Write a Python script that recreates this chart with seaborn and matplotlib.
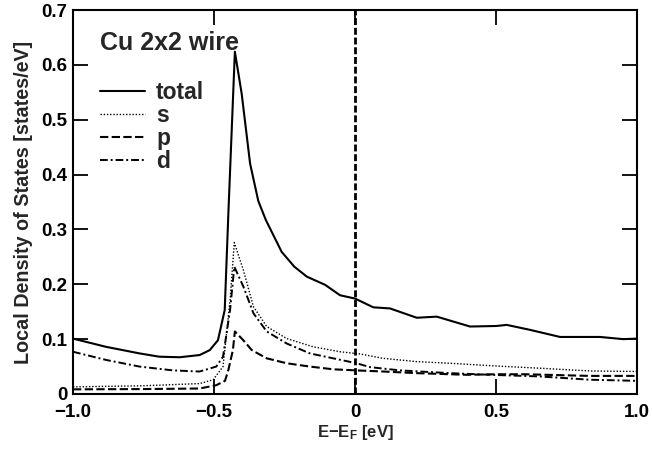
import numpy as np
import pandas as pd
import matplotlib
matplotlib.use("Agg")
import matplotlib.pyplot as plt
import seaborn as sns

# ---- data ----
E_total = [-1.0, -0.883, -0.764, -0.694, -0.622, -0.551, -0.515, -0.486, -0.462, -0.449,
           -0.426, -0.402, -0.372, -0.343, -0.316, -0.26, -0.215, -0.171, -0.106, -0.053,
           0.0, 0.065, 0.124, 0.219, 0.29, 0.408, 0.502, 0.538, 0.62, 0.727, 0.869, 0.951, 1.0]
total = [0.101, 0.086, 0.074, 0.068, 0.067, 0.071, 0.080, 0.098, 0.153, 0.33,
         0.624, 0.548, 0.42, 0.352, 0.317, 0.259, 0.232, 0.214, 0.199, 0.180,
         0.174, 0.158, 0.156, 0.139, 0.141, 0.123, 0.124, 0.126, 0.117, 0.104, 0.104, 0.100, 0.101]

E_s = [-1.0, -0.75, -0.551, -0.503, -0.468, -0.443, -0.428, -0.396, -0.36, -0.313,
       -0.242, -0.148, -0.053, 0.018, 0.1, 0.219, 0.337, 0.502, 0.656, 0.833, 1.0]
s = [0.013, 0.015, 0.019, 0.026, 0.050, 0.171, 0.276, 0.226, 0.159, 0.123,
     0.101, 0.086, 0.077, 0.073, 0.065, 0.059, 0.056, 0.051, 0.047, 0.042, 0.041]

E_p = [-1.0, -0.75, -0.551, -0.492, -0.461, -0.449, -0.433, -0.426, -0.396, -0.366,
       -0.313, -0.242, -0.16, -0.077, 0.006, 0.1, 0.219, 0.396, 0.5, 0.6, 0.833, 1.0]
p = [0.0085, 0.009, 0.010, 0.016, 0.024, 0.044, 0.080, 0.114, 0.098, 0.080,
     0.065, 0.056, 0.050, 0.045, 0.043, 0.041, 0.038, 0.035, 0.036, 0.036, 0.033, 0.033]

E_d = [-1.0, -0.882, -0.764, -0.645, -0.551, -0.492, -0.468, -0.443, -0.428, -0.396,
       -0.36, -0.313, -0.242, -0.16, -0.077, 0.006, 0.053, 0.16, 0.337, 0.479, 0.656, 0.833, 1.0]
d = [0.077, 0.062, 0.050, 0.043, 0.041, 0.050, 0.068, 0.153, 0.232, 0.196,
     0.147, 0.114, 0.092, 0.074, 0.065, 0.056, 0.049, 0.043, 0.038, 0.035, 0.032, 0.026, 0.024]

labels = ["total", "s", "p", "d"]
x_ticks = [-1.0, -0.5, 0.0, 0.5, 1.0]
x_tick_labels = ["\u22121.0", "\u22120.5", "0", "0.5", "1.0"]
y_ticks = [0.0, 0.1, 0.2, 0.3, 0.4, 0.5, 0.6, 0.7]
y_tick_labels = ["0", "0.1", "0.2", "0.3", "0.4", "0.5", "0.6", "0.7"]

# ---- style ----
sns.set_style("ticks")
plt.rcParams["font.family"] = ["Liberation Sans", "DejaVu Sans"]
plt.rcParams["font.weight"] = "bold"
plt.rcParams["mathtext.fontset"] = "custom"
plt.rcParams["mathtext.rm"] = "Liberation Sans:bold"
plt.rcParams["mathtext.it"] = "Liberation Sans:bold"
plt.rcParams["mathtext.bf"] = "Liberation Sans:bold"

fig = plt.figure(figsize=(6.52, 4.49), dpi=100)
ax = fig.add_axes([73 / 652, 55 / 449, 564 / 652, 384 / 449])

series = [
    (E_total, total, dict(linewidth=1.5, linestyle="-")),
    (E_s, s, dict(linewidth=1.0, linestyle=(0, (1.0, 1.3)))),
    (E_p, p, dict(linewidth=1.5, linestyle=(0, (4.0, 1.6)))),
    (E_d, d, dict(linewidth=1.4, linestyle=(0, (4.0, 1.5, 1.0, 1.5)))),
]
handles = []
for (xs, ys, kw), lab in zip(series, labels):
    df = pd.DataFrame({"E": xs, "LDOS": ys})
    n0 = len(ax.lines)
    sns.lineplot(data=df, x="E", y="LDOS", ax=ax, color="black", errorbar=None,
                 legend=False, **kw)
    ln = ax.lines[n0]
    ln.set_label(lab)
    handles.append(ln)

ax.axvline(0.0, color="black", linewidth=2.0, linestyle=(0, (2.5, 1.0)))

ax.set_xlim(-1.0, 1.0)
ax.set_ylim(0.0, 0.7)
ax.set_xticks(x_ticks)
ax.set_xticklabels(x_tick_labels)
ax.set_yticks(y_ticks)
ax.set_yticklabels(y_tick_labels)
ax.tick_params(axis="both", direction="in", length=10.5, width=1.3,
               top=True, right=True, labelsize=13.5, colors="black")
ax.tick_params(axis="x", pad=7)
ax.tick_params(axis="y", pad=4)
for sp in ax.spines.values():
    sp.set_linewidth(1.5)
    sp.set_color("black")

ax.set_xlabel(r"E$-$E$_{\rm F}$ [eV]", fontsize=12, fontweight="bold", labelpad=2)
ax.set_ylabel("Local Density of States [states/eV]", fontsize=14.2, fontweight="bold",
              labelpad=6)

ax.text(-0.905, 0.64, "Cu 2x2 wire", fontsize=18, fontweight="bold", ha="left", va="center")

leg = ax.legend(handles=handles, labels=labels, loc="upper left",
                bbox_to_anchor=(27 / 564, 0.815), frameon=False,
                prop={"size": 16.5, "weight": "bold"}, handlelength=1.95,
                handletextpad=0.5, labelspacing=0.0, borderpad=0, borderaxespad=0)

fig.savefig("out.png", dpi=100)
